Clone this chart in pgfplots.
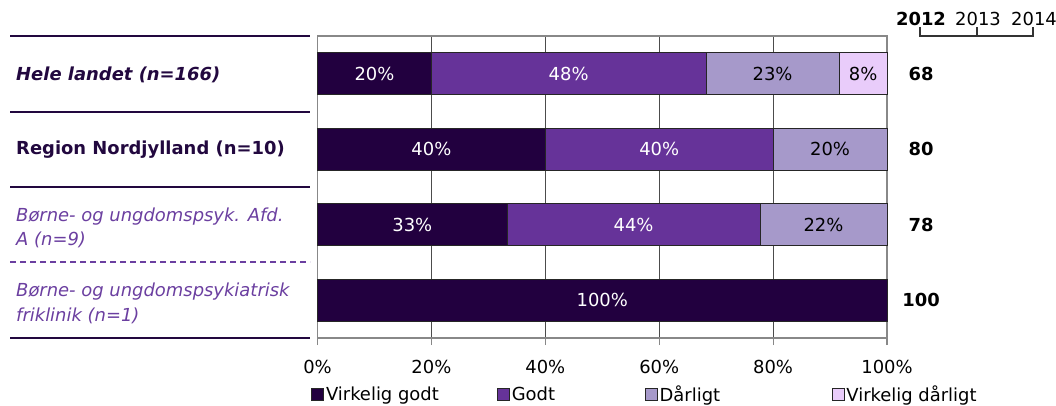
\documentclass[border=0pt]{standalone}
\usepackage{fontspec}
\setmainfont{DejaVu Sans}
\usepackage{pgfplots}
\pgfplotsset{compat=1.18}
\definecolor{c1}{HTML}{22003F}
\definecolor{c2}{HTML}{663399}
\definecolor{c3}{HTML}{A699CA}
\definecolor{c4}{HTML}{E9CCFA}
\definecolor{labdark}{HTML}{22083F}
\definecolor{labpurple}{HTML}{6B3FA0}
\definecolor{framec}{HTML}{888888}
\newcommand{\fs}{\fontsize{18}{24.5}\selectfont}
\begin{document}
\begin{tikzpicture}
\useasboundingbox (0bp,0bp) rectangle (1056bp,406bp);
\begin{axis}[
  at={(317.5bp,68bp)}, anchor=south west,
  scale only axis, width=569.5bp, height=302bp,
  xbar stacked, bar width=42bp,
  xmin=0, xmax=100, ymin=-0.5, ymax=3.5, y dir=reverse,
  ytick=\empty,
  xtick={0,20,40,60,80,100},
  xticklabels={0\%,20\%,40\%,60\%,80\%,100\%},
  xtick pos=bottom, tick align=outside, major tick length=7bp,
  xticklabel style={yshift=-12bp},
  xmajorgrids, grid style={draw=black!70, line width=0.9bp},
  axis line style={draw=framec, line width=1.2bp},
  tick style={draw=framec, line width=1.2bp},
  ticklabel style={font=\fs},
  clip=false,
  every axis plot/.append style={draw=black!85, line width=0.8bp},
  legend style={draw=none, fill=none, font=\fs, legend columns=4,
    at={(-0.0114,-0.1854)}, anchor=west, inner sep=0pt,
    nodes={inner sep=0pt}, /tikz/column sep=2bp},
  legend image code/.code={\draw[#1, draw=black!85, line width=0.8bp] (0bp,-6bp) rectangle (12bp,6bp);},
]
\addplot[fill=c1] coordinates {(20,0) (40,1) (33.3,2) (100,3)};
\addlegendentry{\makebox[169bp][l]{Virkelig godt}}
\addplot[fill=c2] coordinates {(48.2,0) (40,1) (44.4,2) (0,3)};
\addlegendentry{\makebox[131bp][l]{Godt}}
\addplot[fill=c3] coordinates {(23.4,0) (20,1) (22.3,2) (0,3)};
\addlegendentry{\makebox[170bp][l]{Dårligt}}
\addplot[fill=c4] coordinates {(8.4,0) (0,1) (0,2) (0,3)};
\addlegendentry{Virkelig dårligt}
\coordinate (a1) at (axis cs:10,0);
\coordinate (a2) at (axis cs:44.1,0);
\coordinate (a3) at (axis cs:79.9,0);
\coordinate (a4) at (axis cs:95.8,0);
\coordinate (b1) at (axis cs:20,1);
\coordinate (b2) at (axis cs:60,1);
\coordinate (b3) at (axis cs:90,1);
\coordinate (c1) at (axis cs:16.65,2);
\coordinate (c2) at (axis cs:55.5,2);
\coordinate (c3) at (axis cs:88.85,2);
\coordinate (d1) at (axis cs:50,3);
\coordinate (r1) at (axis cs:106,0);
\coordinate (r2) at (axis cs:106,1);
\coordinate (r3) at (axis cs:106,2);
\coordinate (r4) at (axis cs:106,3);
\end{axis}
% bar value labels
\node[font=\fs, text=white] at (a1) {20\%};
\node[font=\fs, text=white] at (a2) {48\%};
\node[font=\fs, text=black] at (a3) {23\%};
\node[font=\fs, text=black] at (a4) {8\%};
\node[font=\fs, text=white] at (b1) {40\%};
\node[font=\fs, text=white] at (b2) {40\%};
\node[font=\fs, text=black] at (b3) {20\%};
\node[font=\fs, text=white] at (c1) {33\%};
\node[font=\fs, text=white] at (c2) {44\%};
\node[font=\fs, text=black] at (c3) {22\%};
\node[font=\fs, text=white] at (d1) {100\%};
% right-hand index values
\node[font=\fs\bfseries] at (r1) {68};
\node[font=\fs\bfseries] at (r2) {80};
\node[font=\fs\bfseries] at (r3) {78};
\node[font=\fs\bfseries] at (r4) {100};
% year header
\node[font=\fs\bfseries, anchor=base] at (921bp,380bp) {2012};
\node[font=\fs, anchor=base] at (978bp,380bp) {2013};
\node[font=\fs, anchor=base] at (1034bp,380bp) {2014};
\draw[black!80, line width=1.2bp] (920bp,379bp) -- (920bp,370bp) -- (1033bp,370bp) -- (1033bp,379bp);
\draw[black!80, line width=1.2bp] (977bp,370bp) -- (977bp,379bp);
% left separators
\draw[labdark, line width=2bp] (10bp,370bp) -- (310bp,370bp);
\draw[labdark, line width=2bp] (10bp,294bp) -- (310bp,294bp);
\draw[labdark, line width=2bp] (10bp,219bp) -- (310bp,219bp);
\draw[labpurple, line width=1.3bp, dash pattern=on 6bp off 4bp] (10bp,144bp) -- (310bp,144bp);
\draw[labdark, line width=2bp] (10bp,68bp) -- (310bp,68bp);
% left labels
\node[font=\fs\bfseries\itshape, text=labdark, anchor=west, inner sep=0pt] at (16bp,331bp) {Hele landet (n=166)};
\node[font=\fs\bfseries, text=labdark, anchor=west, inner sep=0pt] at (16bp,256bp) {Region Nordjylland (n=10)};
\node[font=\fs\itshape, text=labpurple, anchor=west, inner sep=0pt, align=left] at (16bp,178bp) {Børne- og ungdomspsyk. Afd.\\A (n=9)};
\node[font=\fs\itshape, text=labpurple, anchor=west, inner sep=0pt, align=left] at (16bp,102.5bp) {Børne- og ungdomspsykiatrisk\\friklinik (n=1)};
\end{tikzpicture}
\end{document}
